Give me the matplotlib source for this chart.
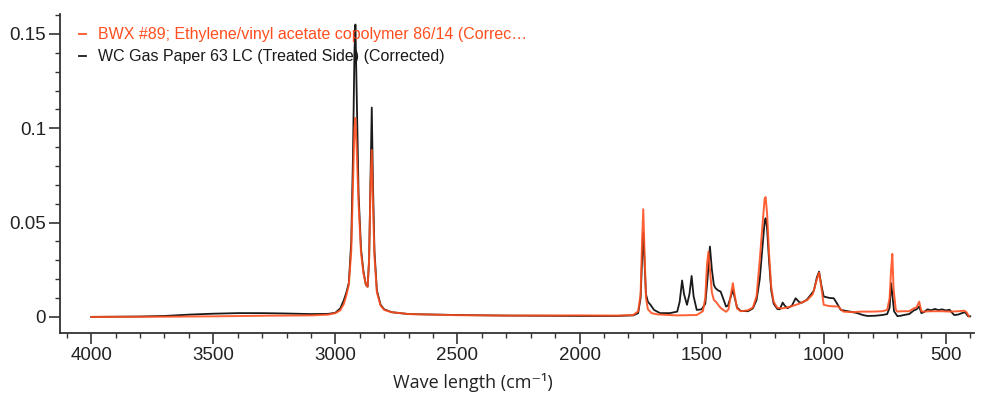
import matplotlib
matplotlib.use("Agg")
import matplotlib.pyplot as plt
from matplotlib.ticker import MultipleLocator

# ---- data ----
wc_label = "WC Gas Paper 63 LC (Treated Side) (Corrected)"
wc_wn = [4000, 3800, 3700, 3600, 3500, 3400, 3300, 3200, 3100, 3030, 3000, 2980, 2965, 2955,
         2945, 2935, 2928, 2922, 2918, 2913, 2905, 2895, 2885, 2875, 2868, 2862, 2856, 2851,
         2846, 2840, 2830, 2815, 2800, 2770, 2700, 2500, 2300, 2000, 1850, 1780, 1760, 1750,
         1744, 1739, 1734, 1728, 1720, 1710, 1695, 1670, 1630, 1600, 1590, 1580, 1572, 1560,
         1550, 1541, 1533, 1520, 1500, 1485, 1476, 1466, 1458, 1450, 1443, 1432, 1422, 1410,
         1400, 1392, 1380, 1372, 1364, 1355, 1340, 1310, 1290, 1275, 1262, 1250, 1242, 1238,
         1232, 1224, 1215, 1205, 1190, 1180, 1168, 1160, 1148, 1130, 1115, 1100, 1090, 1070,
         1053, 1040, 1028, 1019, 1010, 1000, 990, 975, 959, 945, 930, 900, 880, 862, 840, 821,
         790, 760, 740, 730, 724, 719, 712, 698, 685, 672, 650, 630, 620, 609, 600, 590, 575,
         560, 545, 530, 515, 500, 485, 466, 450, 430, 420, 410, 400]
wc_abs = [0.0, 0.0002, 0.0005, 0.0012, 0.0017, 0.0020, 0.0020, 0.0018, 0.0015, 0.0016, 0.0022,
          0.0045, 0.009, 0.013, 0.018, 0.04, 0.085, 0.14, 0.155, 0.12, 0.065, 0.036, 0.024,
          0.017, 0.016, 0.03, 0.075, 0.111, 0.07, 0.035, 0.014, 0.0065, 0.004, 0.0025, 0.0015,
          0.001, 0.0007, 0.0005, 0.0005, 0.0008, 0.002, 0.01, 0.03, 0.0444, 0.03, 0.012, 0.008,
          0.0065, 0.0037, 0.002, 0.002, 0.0028, 0.008, 0.0193, 0.012, 0.0064, 0.012, 0.0217,
          0.011, 0.0037, 0.004, 0.007, 0.02, 0.0373, 0.025, 0.017, 0.0152, 0.014, 0.0134, 0.009,
          0.0055, 0.006, 0.011, 0.0143, 0.01, 0.005, 0.0032, 0.003, 0.0045, 0.009, 0.02, 0.038,
          0.0505, 0.0523, 0.047, 0.03, 0.014, 0.007, 0.0042, 0.004, 0.0076, 0.006, 0.0046,
          0.006, 0.0099, 0.0078, 0.0075, 0.009, 0.0117, 0.014, 0.021, 0.024, 0.017, 0.0108,
          0.0105, 0.01, 0.0099, 0.007, 0.0037, 0.003, 0.0025, 0.002, 0.001, 0.0005, 0.0006,
          0.001, 0.0015, 0.005, 0.0179, 0.012, 0.003, 0.0004, 0.0006, 0.001, 0.0015, 0.0035,
          0.004, 0.0055, 0.002, 0.0025, 0.004, 0.0035, 0.0042, 0.0036, 0.004, 0.0034, 0.0038,
          0.001, 0.0012, 0.0022, 0.0024, 0.0005, 0.0003]

bwx_label = "BWX #89; Ethylene/vinyl acetate copolymer 86/14 (Correc\u2026"
bwx_wn = [4000, 3700, 3500, 3300, 3100, 3030, 3000, 2980, 2965, 2955, 2945, 2935, 2928, 2922,
          2918, 2913, 2905, 2895, 2885, 2875, 2868, 2862, 2856, 2851, 2846, 2840, 2830, 2815,
          2800, 2770, 2700, 2500, 2300, 2000, 1850, 1780, 1760, 1750, 1744, 1739, 1734, 1728,
          1720, 1705, 1680, 1600, 1520, 1495, 1485, 1478, 1472, 1466, 1458, 1450, 1440, 1430,
          1420, 1400, 1390, 1380, 1372, 1364, 1355, 1340, 1310, 1290, 1275, 1262, 1250, 1242,
          1238, 1232, 1224, 1215, 1205, 1190, 1170, 1150, 1135, 1100, 1067, 1045, 1030, 1019,
          1010, 1000, 980, 960, 940, 930, 920, 880, 848, 800, 760, 740, 730, 724, 719, 714, 705,
          698, 680, 650, 630, 620, 609, 600, 590, 560, 520, 480, 450, 425, 415, 405]
bwx_abs = [0.0, 0.0001, 0.0003, 0.0006, 0.0008, 0.0012, 0.002, 0.0035, 0.007, 0.0115, 0.017,
           0.035, 0.07, 0.1, 0.1055, 0.09, 0.06, 0.034, 0.023, 0.017, 0.016, 0.03, 0.07, 0.0885,
           0.06, 0.032, 0.013, 0.006, 0.0037, 0.0025, 0.0015, 0.0009, 0.0007, 0.0008, 0.0007,
           0.001, 0.003, 0.012, 0.04, 0.0571, 0.035, 0.01, 0.004, 0.002, 0.0013, 0.0008, 0.001,
           0.003, 0.01, 0.028, 0.0346, 0.025, 0.013, 0.009, 0.0078, 0.006, 0.0045, 0.0027, 0.004,
           0.012, 0.0179, 0.011, 0.0045, 0.003, 0.0035, 0.005, 0.011, 0.03, 0.05, 0.0625, 0.0635,
           0.055, 0.034, 0.016, 0.008, 0.0048, 0.0045, 0.005, 0.0055, 0.007, 0.009, 0.012, 0.019,
           0.0235, 0.016, 0.0064, 0.0058, 0.0056, 0.0055, 0.004, 0.0028, 0.0025, 0.0028, 0.0028,
           0.003, 0.0037, 0.01, 0.025, 0.0334, 0.015, 0.004, 0.0028, 0.003, 0.003, 0.0046, 0.005,
           0.0081, 0.003, 0.0028, 0.003, 0.003, 0.0028, 0.003, 0.0033, 0.0025, 0.0002]

x_ticks = [4000, 3500, 3000, 2500, 2000, 1500, 1000, 500]
y_ticks = [0, 0.05, 0.1, 0.15]
y_ticklabels = ["0", "0.05", "0.1", "0.15"]
x_label = "Wave length (cm\u207b\u00b9)"

RED = "#ff4f1f"
BLACK = "#1a1a1a"

plt.rcParams['font.family'] = ['Liberation Sans', 'DejaVu Sans']

fig = plt.figure(figsize=(9.88, 3.94), dpi=100)
ax = fig.add_axes([0.0607, 0.155, 0.925, 0.81])

ax.plot(wc_wn, wc_abs, color=BLACK, lw=1.3, label=wc_label, zorder=2)
ax.plot(bwx_wn, bwx_abs, color=RED, lw=1.4, alpha=0.9, label=bwx_label, zorder=3)

ax.set_xlim(4128, 385)
ax.set_ylim(-0.0085, 0.1607)

ax.set_xticks(x_ticks)
ax.set_xticklabels([str(t) for t in x_ticks])
ax.set_yticks(y_ticks)
ax.set_yticklabels(y_ticklabels)
ax.xaxis.set_minor_locator(MultipleLocator(100))
ax.yaxis.set_minor_locator(MultipleLocator(0.01))

for s in ("top", "right"):
    ax.spines[s].set_visible(False)
for s in ("left", "bottom"):
    ax.spines[s].set_color("#333333")
    ax.spines[s].set_linewidth(1.3)

ax.tick_params(axis="both", which="major", direction="out", length=8, width=1.2,
               color="#333333", labelsize=13.5, labelcolor="#222222", pad=2)
ax.tick_params(axis="both", which="minor", direction="out", length=3.5, width=1.0,
               color="#333333")

ax.set_xlabel(x_label, fontsize=13, family=['Open Sans', 'DejaVu Sans'], color="#222222")
ax.xaxis.set_label_coords(0.452, -0.125)

handles, labels = ax.get_legend_handles_labels()
leg = ax.legend(handles[::-1], labels[::-1], loc="upper left", bbox_to_anchor=(0.005, 1.003),
                frameon=False, handlelength=0.45, handletextpad=0.75, labelspacing=0.45,
                fontsize=11.5, labelcolor="linecolor")

fig.savefig("out.png", dpi=100)
